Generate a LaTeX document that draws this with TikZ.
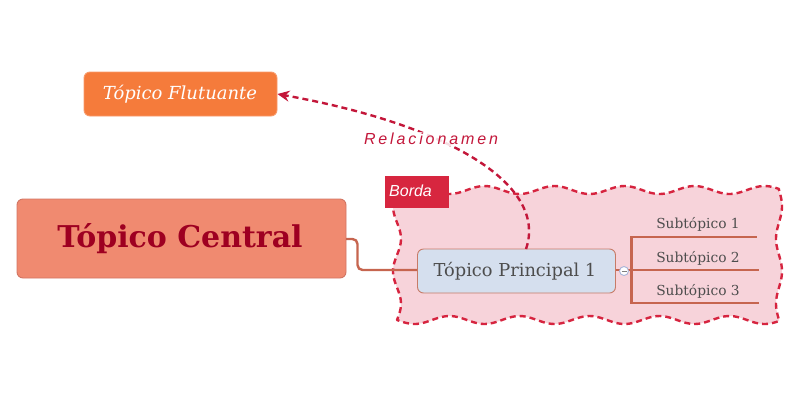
\documentclass[tikz,border=0pt]{standalone}
\usepackage{fontspec}
\setmainfont{DejaVu Serif}
\setsansfont{Liberation Sans}
\usetikzlibrary{arrows.meta}
\definecolor{flut}{HTML}{F57B3B}
\definecolor{flutb}{HTML}{F89A6A}
\definecolor{cent}{HTML}{F08A70}
\definecolor{centb}{HTML}{D27563}
\definecolor{centt}{HTML}{9E0021}
\definecolor{princ}{HTML}{D5DFEE}
\definecolor{princb}{HTML}{C77B67}
\definecolor{txt}{HTML}{4D4D4D}
\definecolor{conn}{HTML}{C6654F}
\definecolor{bordfill}{HTML}{F7D3DA}
\definecolor{bordline}{HTML}{D6243F}
\definecolor{bordlab}{HTML}{D7263F}
\definecolor{rel}{HTML}{C3173A}
\definecolor{circb}{HTML}{A8B4D8}
\tikzset{
  topicbox/.style={rounded corners=6pt, line width=0.9pt, inner sep=0pt},
  conline/.style={draw=conn, line width=2.4pt},
  subtxt/.style={font=\fontsize{13.8}{15}\selectfont, text=txt, inner sep=0pt, anchor=base},
}
\begin{document}
\begin{tikzpicture}[x=1pt,y=-1pt]
\useasboundingbox (0,0) rectangle (800,400);
% boundary region
\draw[bordline, fill=bordfill, line width=2.4pt, dash pattern=on 6pt off 4pt, line join=round]
  plot[domain=397:779, samples=120, variable=\x] (\x, {190-4*sin((\x-397)*5.142857)})
  -- plot[domain=190:320, samples=50, variable=\t] ({779+3*sin((\t-190)*5.538)}, \t)
  -- plot[domain=779:397, samples=120, variable=\x] (\x, {320+4*sin((\x-397)*5.142857)})
  -- plot[domain=320:190, samples=50, variable=\t] ({397-4*sin((\t-190)*5.538)}, \t)
  -- cycle;
\node[fill=bordlab, minimum width=64pt, minimum height=32pt, inner sep=0pt] (borda) at (417,192) {};
\node[font=\sffamily\itshape\fontsize{16}{18}\selectfont, text=white, anchor=base west, inner sep=0pt] (bordatxt) at (389,196) {Borda};
% nodes
\node[topicbox, fill=flut, draw=flutb, minimum width=193pt, minimum height=44pt] (flut) at (180.5,94) {};
\node[font=\itshape\fontsize{18}{20}\selectfont, text=white] (fluttxt) at (180,94) {Tópico Flutuante};
\node[topicbox, fill=cent, draw=centb, minimum width=329pt, minimum height=79pt] (cent) at (181.5,238.5) {};
\node[font=\bfseries\fontsize{30}{34}\selectfont, text=centt] (centtxt) at (180,239) {Tópico Central};
\node[topicbox, fill=princ, draw=princb, minimum width=198pt, minimum height=44pt] (princ) at (516.5,271) {};
\node[font=\fontsize{17.8}{20}\selectfont, text=txt] (princtxt) at (515,271) {Tópico Principal 1};
% central to principal connector
\coordinate (c1) at (346,239);
\coordinate (c2) at (357.5,239);
\draw[conline, rounded corners=5pt] (c1) -- (c2) -- (357.5,270) -- (princ.west |- 0,270);
% subtopics
\coordinate (s0) at (631.5,270);
\coordinate (s1) at (757,237);
\coordinate (s2) at (759,270);
\coordinate (s3) at (759,303);
\draw[conline] (princ.east |- s0) -- (s0);
\draw[conline] (631.5,236) -- (631.5,304);
\draw[conline] (630.5,237) -- (s1);
\draw[conline] (s0) -- (s2);
\draw[conline] (630.5,303) -- (s3);
\node[circle, draw=circb, fill=white, line width=0.9pt, minimum size=9pt, inner sep=0pt] (col) at (624,271) {};
\draw[gray, line width=1pt] ([xshift=-2.5pt]col.center) -- ([xshift=2.5pt]col.center);
\node[subtxt] (sub1) at (698,228) {Subtópico 1};
\node[subtxt] (sub2) at (698,262) {Subtópico 2};
\node[subtxt] (sub3) at (698,295) {Subtópico 3};
% relationship
\draw[rel, line width=2.4pt, dash pattern=on 6pt off 4pt, -{Stealth[length=12pt,width=11pt,inset=4pt]}]
  (526,249) .. controls (548,185) and (450,125) .. (flut.east |- 0,94);
\node[fill=white, fill opacity=0.85, text opacity=1, text=rel, inner sep=1pt,
  font=\sffamily\itshape\fontsize{16}{18}\selectfont\addfontfeature{LetterSpace=18}] (reltxt) at (431,139) {Relacionamen};
\end{tikzpicture}
\end{document}
